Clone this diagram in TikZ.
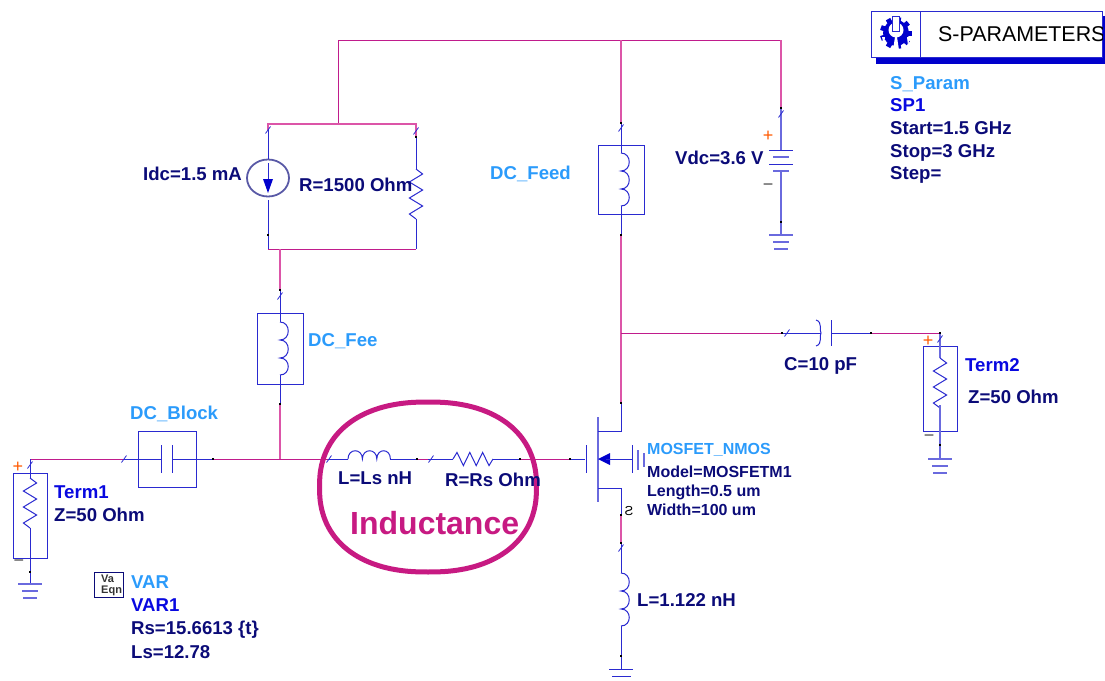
\documentclass[tikz,border=0pt]{standalone}
\usepackage{fontspec}
\setmainfont{Liberation Sans}
\usetikzlibrary{shapes.geometric}
\definecolor{wirepink}{HTML}{DC55A8}
\definecolor{wiredark}{HTML}{C01C8C}
\definecolor{partblue}{HTML}{2A2AD0}
\definecolor{labnavy}{HTML}{0B0B78}
\definecolor{labsky}{HTML}{2B9BFB}
\definecolor{labblue}{HTML}{0808E0}
\definecolor{ringred}{HTML}{C71A82}
\tikzset{
    wire/.style={draw=wirepink, line width=1.4pt},
    wirethin/.style={draw=wiredark, line width=1pt},
    part/.style={draw=partblue, line width=1pt},
    pale/.style={draw=partblue!70, line width=1.5pt},
    partbox/.style={draw=partblue, line width=1pt, inner sep=0pt, fill=white},
    lab/.style={anchor=base west, inner sep=0pt, font=\fontsize{18.6}{20}\selectfont\bfseries, text=labnavy},
    labsmall/.style={lab, font=\fontsize{16}{18}\selectfont\bfseries},
    labname/.style={lab, text=labsky},
    labinst/.style={lab, text=labblue},
    sign/.style={inner sep=0pt, font=\fontsize{18}{18}\selectfont},
    pics/gnd/.style={code={
        \draw[pale] (-12,0) -- (12,0);
        \draw[pale] (-8,7) -- (8,7);
        \draw[pale] (-7,14) -- (7,14);
    }},
    pics/coil/.style={code={
        \draw[part] (0,0) .. controls (11,0) and (11,18) .. (0,18)
            .. controls (11,18) and (11,36) .. (0,36)
            .. controls (11,36) and (11,53) .. (0,53);
    }},
    pics/zigzag/.style={code={
        \draw[part] (0,0) -- (6.6,5) -- (-6.6,13) -- (6.6,21) -- (-6.6,29) -- (6.6,37) -- (-6.6,45) -- (0,50);
    }},
    pics/tick/.style={code={
        \draw[partblue, line width=.8pt] (-2.5,3.5) -- (2.5,-3.5);
    }},
}
\begin{document}
\begin{tikzpicture}[x=1pt, y=-1pt]
    \useasboundingbox (0,0) rectangle (1105,680);

    % boxes first, wires are drawn over them
    \node[partbox, minimum width=34, minimum height=85] (term1) at (30,515.5) {};
    \node[partbox, minimum width=58, minimum height=56] (block) at (167,459) {};
    \node[partbox, minimum width=46, minimum height=71] (feeda) at (280,348.5) {};
    \node[partbox, minimum width=46, minimum height=69] (feedb) at (621,179.5) {};
    \node[partbox, minimum width=34, minimum height=85] (term2) at (940,388.5) {};
    \node[ellipse, draw=blue!30!gray, line width=1.8pt, minimum width=42, minimum height=37, inner sep=0pt] (isrc) at (268,178) {};

    % pin points
    \coordinate (left) at (30,459);
    \coordinate (joint) at (280,459);
    \coordinate (gate) at (585,459);
    \coordinate (tee) at (621,333);
    \coordinate (toptee) at (621,40);
    \coordinate (topin) at (338,40);
    \coordinate (topvdc) at (781,40);
    \coordinate (ula) at (268,124);
    \coordinate (ura) at (416,124);
    \coordinate (lla) at (268,249);
    \coordinate (lra) at (416,249);
    \coordinate (drain) at (621,403);
    \coordinate (source) at (621,515);

    % wires
    \draw[wirethin] (338,124) -- (topin) -- (topvdc);
    \draw[wire] (topvdc) -- (781,108);
    \draw[wire] (416,137) -- (ura) -- (ula) -- (268,130);
    \draw[wirethin] (268,235) -- (lla) -- (lra);
    \draw[wire] (280,249) -- (280,290);
    \draw[wire] (280,404) -- (joint);
    \draw[wirethin] (left) -- (124,459);
    \draw[wirethin] (213,459) -- (328,459);
    \draw[wirethin] (417,459) -- (428,459);
    \draw[wirethin] (520,459) -- (570,459);
    \draw[wire] (toptee) -- (621,123);
    \draw[wire] (621,235) -- (drain);
    \draw[wirethin] (tee) -- (782,333);
    \draw[wirethin] (871,333) -- (940,333);
    \draw[wire] (source) -- (621,543);

    % parts
    \draw[part] (left) -- (30,478);
    \draw[part] (30,528) -- (30,584);
    \pic at (30,478) {zigzag};
    \pic at (30,584) {gnd};
    \draw[part] (124,459) -- (161,459);
    \draw[part] (172,459) -- (213,459);
    \draw[part] (161,445) -- (161,473);
    \draw[part] (172,445) -- (172,473);
    \draw[part] (268,130) -- (isrc.north);
    \draw[part] (268,200) -- (lla);
    \draw[part] (268,163) -- (268,182);
    \fill[blue!80!black] (263,179) -- (273,179) -- (268,193) -- cycle;
    \draw[part] (416,137) -- (416,169);
    \pic at (416,169) {zigzag};
    \draw[part] (416,219) -- (lra);
    \draw[part] (280,290) -- (feeda.north);
    \draw[part] (280,313) -- (280,322);
    \pic at (280,322) {coil};
    \draw[part] (280,375) -- (280,404);
    \draw[part] (328,459) -- (348,459);
    \pic[rotate=90, yscale=.8] at (348,459) {coil};
    \draw[part] (390,459) -- (417,459);
    \draw[part] (428,459) -- (453,459);
    \pic[rotate=90, yscale=.8] at (453,459) {zigzag};
    \draw[part] (493,459) -- (520,459);
    \draw[part] (570,459) -- (gate);
    \draw[part] (gate) ++(1.5,-14) -- ++(0,28);
    \draw[pale] (598,417) -- (598,502);
    \draw[part] (598,431) -- (621,431) -- (drain);
    \draw[part] (598,488) -- (621,488) -- (source);
    \fill[blue!80!black] (598,459) -- (610,453) -- (610,465) -- cycle;
    \draw[part] (606,459) -- (632,459);
    \draw[part] (632,445) -- (632,473);
    \draw[pale] (638,450) -- (638,470);
    \draw[pale] (644,453) -- (644,467);
    \draw[part] (621,543) -- (621,573);
    \pic at (621,573) {coil};
    \draw[part] (621,626) -- (621,669);
    \draw[part] (609,669) -- (633,669);
    \draw[part] (612,676) -- (631,676);
    \draw[part] (621,123) -- (feedb.north);
    \draw[part] (621,145) -- (621,153);
    \pic at (621,153) {coil};
    \draw[part] (621,206) -- (621,235);
    \draw[pale] (781,108) -- (781,150);
    \draw[part] (769,150) -- (793,150);
    \draw[pale] (773,157) -- (789,157);
    \draw[part] (769,164) -- (793,164);
    \draw[pale] (773,171) -- (789,171);
    \draw[pale] (781,171) -- (781,235);
    \pic at (781,235) {gnd};
    \draw[part] (782,333) -- (821,333);
    \draw[part] (816,320) .. controls (823,322) and (819,331) .. (821,333)
        .. controls (819,335) and (823,344) .. (816,346);
    \draw[part] (831,320) -- (831,346);
    \draw[part] (831,333) -- (871,333);
    \draw[pale] (940,333) -- (940,358);
    \pic at (940,358) {zigzag};
    \draw[pale] (940,405) -- (940,459);
    \pic at (940,459) {gnd};

    % little strokes and end points of the pins
    \foreach \px/\py in {268/130, 416/131, 280/296, 621/128, 781/114, 621/548, 940/339, 30/465}
        \pic at (\px,\py) {tick};
    \foreach \px/\py in {124/459, 329/459, 431/459, 787/333}
        \pic at (\px,\py) {tick};
    \foreach \px/\py in {781/108, 621/123, 621/235, 782/333, 871/333, 940/333, 621/403, 621/515, 621/543, 621/656, 416/137, 268/235, 280/290, 280/404, 940/445, 781/222, 30/572, 213/459, 417/459, 520/459, 570/459}
        \fill[black] (\px-.8,\py-.8) rectangle (\px+.8,\py+.8);

    % ring
    \draw[ringred, line width=5pt] plot[domain=2.5:357.5, samples=72, smooth cycle]
        ({428+108.5*(cos(\x)<0?-1:1)*abs(cos(\x))^.87}, {487+85*(sin(\x)<0?-1:1)*abs(sin(\x))^.87});

    % S-parameters block
    \fill[blue!80!black] (876,57) rectangle (1105,64);
    \fill[blue!80!black] (1102,16) rectangle (1105,64);
    \node[partbox, minimum width=231, minimum height=46] (spbox) at (986.5,34) {};
    \draw[part] (920,11) -- (920,57);
    \begin{scope}
        \clip (871,11) rectangle (1102,57);
        \node[anchor=base west, inner sep=0pt, font=\fontsize{21.4}{22}\selectfont] (sptitle) at (938,41) {S-PARAMETERS};
    \end{scope}
    % gear
    \foreach \a in {0,40,...,320}
        \draw[blue!80!black, line width=5pt] (896,33) ++(\a:9) -- ++(\a:7);
    \fill[blue!80!black] (896,33) circle (13);
    \fill[white] (896,30) circle (7.5);
    \fill[white] (895,37) -- (897,37) -- (899,50) -- (893,50) -- cycle;
    \fill[white] (882,37) -- (885,37) -- (884,46) -- cycle;
    \fill[white] (910,37) -- (907,37) -- (908,46) -- cycle;
    \draw[partblue, fill=white] (892,16) rectangle (899,31);

    % labels
    \node[labname] (spname) at (890,89) {S\_Param};
    \node[labinst] (spinst) at (890,111) {SP1};
    \node[lab] (spstart) at (890,134) {Start=1.5 GHz};
    \node[lab] (spstop) at (890,157) {Stop=3 GHz};
    \node[lab] (spstep) at (890,179) {Step=};
    \node[lab] (idc) at (143,180) {Idc=1.5 mA};
    \node[lab] (rload) at (299,191) {R=1500 Ohm};
    \node[labname] (feedaname) at (308,346) {DC\_Fee};
    \node[labname] (feedbname) at (490,179) {DC\_Feed};
    \node[lab] (vdc) at (675,164) {Vdc=3.6 V};
    \node[lab] (cval) at (784,370) {C=10 pF};
    \node[labinst] (term2name) at (965,371) {Term2};
    \node[lab] (term2z) at (968,403) {Z=50 Ohm};
    \node[labname] (blockname) at (130,419) {DC\_Block};
    \node[labinst] (term1name) at (54,498) {Term1};
    \node[lab] (term1z) at (54,521) {Z=50 Ohm};
    \node[lab] (lsval) at (338,484) {L=Ls nH};
    \node[lab] (rsval) at (445,486) {R=Rs Ohm};
    \node[lab, font=\fontsize{32}{34}\selectfont\bfseries, text=ringred] (ringname) at (350,534) {Inductance};
    \node[labsmall, text=labsky] (fetname) at (647,454) {MOSFET\_NMOS};
    \node[labsmall] (fetmodel) at (647,477) {Model=MOSFETM1};
    \node[labsmall] (fetlen) at (647,496) {Length=0.5 um};
    \node[labsmall] (fetwid) at (647,515) {Width=100 um};
    \node[anchor=base, inner sep=0pt, xscale=-1, font=\fontsize{13}{14}\selectfont] (srcpin) at (629,515) {S};
    \node[lab] (lsrc) at (637,606) {L=1.122 nH};
    \node[labname] (varname) at (131,588) {VAR};
    \node[labinst] (varinst) at (131,611) {VAR1};
    \node[lab] (varrs) at (131,634) {Rs=15.6613 \{t\}};
    \node[lab] (varls) at (131,658) {Ls=12.78};
    \node[draw=labnavy, line width=.9pt, minimum width=29, minimum height=25, inner sep=0pt] (varbox) at (108.5,584.5) {};
    \node[anchor=base west, inner sep=0pt, font=\fontsize{11}{12}\selectfont\bfseries, text=black!80] (vartop) at (101,582) {Va};
    \node[anchor=base west, inner sep=0pt, font=\fontsize{11}{12}\selectfont\bfseries, text=black!80] (varbot) at (101,593) {Eqn};

    % signs
    \node[sign, text=orange!70!red] (plusa) at (18,467) {+};
    \node[sign, text=black!70] (minusa) at (19,563) {−};
    \node[sign, text=orange!70!red] (plusb) at (768,136) {+};
    \node[sign, text=black!70] (minusb) at (768,187) {−};
    \node[sign, text=orange!70!red] (plusc) at (928,341) {+};
    \node[sign, text=black!70] (minusc) at (929,438) {−};
\end{tikzpicture}
\end{document}
